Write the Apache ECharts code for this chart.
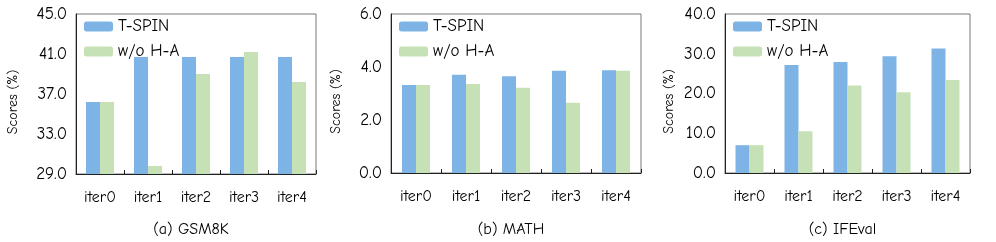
<!DOCTYPE html>
<html><head><meta charset="utf-8">
<script src="https://cdn.jsdelivr.net/npm/echarts@6/dist/echarts.min.js"></script>
<style>html,body{margin:0;padding:0;background:#fff}#c{width:996px;height:242px}</style>
</head><body><div id="c"></div>
<script>
const categories = ['iter0','iter1','iter2','iter3','iter4'];
const seriesNames = ['T-SPIN','w/o H-A'];
const gsm8kTSpin = [36.2, 40.7, 40.7, 40.7, 40.7];
const gsm8kWoHA  = [36.2, 29.8, 39.0, 41.2, 38.2];
const mathTSpin  = [3.32, 3.71, 3.65, 3.86, 3.88];
const mathWoHA   = [3.32, 3.36, 3.22, 2.65, 3.86];
const ifevalTSpin = [7.0, 27.2, 27.9, 29.4, 31.3];
const ifevalWoHA  = [7.0, 10.5, 22.0, 20.3, 23.4];
const gsm8kTicks = [29, 33, 37, 41, 45];
const mathTicks = [0, 2, 4, 6];
const ifevalTicks = [0, 10, 20, 30, 40];
const subtitles = ['(a) GSM8K', '(b) MATH', '(c) IFEval'];

const FONT = "'Comic Sans MS','Comic Neue','Open Sans',sans-serif";
const BLUE = '#7EB3E6', GREEN = '#C7E1B6';
const grids = [
  {left: 76, top: 14, width: 240, height: 160},
  {left: 391, top: 14, width: 250, height: 159},
  {left: 725, top: 14, width: 245, height: 159}
];
const yRanges = [
  {min: 29, max: 45, ticks: gsm8kTicks},
  {min: 0, max: 6, ticks: mathTicks},
  {min: 0, max: 40, ticks: ifevalTicks}
];
const data = [[gsm8kTSpin, gsm8kWoHA],[mathTSpin, mathWoHA],[ifevalTSpin, ifevalWoHA]];
const yNameX = [13, 336, 669];

const chart = echarts.init(document.getElementById('c'));
const opt = {
  animation: false,
  textStyle: {fontFamily: FONT},
  grid: grids.map(g => Object.assign({show: true, borderColor: '#777', borderWidth: 1, backgroundColor: 'transparent'}, g)),
  xAxis: grids.map((g, i) => ({
    type: 'category', gridIndex: i, data: categories,
    axisLine: {lineStyle: {color: '#222', width: 1}},
    axisTick: {show: true, inside: true, length: 4, lineStyle: {color: '#222'}},
    axisLabel: {color: '#000', fontSize: 16, margin: 15, fontFamily: FONT}
  })),
  yAxis: yRanges.map((r, i) => ({
    type: 'value', gridIndex: i, min: r.min, max: r.max,
    splitLine: {show: false},
    axisLine: {show: true, lineStyle: {color: '#222', width: 1}},
    axisTick: {show: false},
    axisLabel: {customValues: r.ticks, color: '#000', fontSize: 17, margin: 9, fontFamily: FONT,
      formatter: v => v.toFixed(1)}
  })),
  legend: grids.map((g, i) => ({
    data: seriesNames, left: g.left + 3, top: 13, orient: 'vertical',
    itemWidth: 29, itemHeight: 10, itemGap: 8,
    textStyle: {fontSize: 17, color: '#000', fontFamily: FONT},
    selectedMode: false
  })),
  graphic: [],
  series: []
};
grids.forEach((g, i) => {
  seriesNames.forEach((n, j) => {
    opt.series.push({
      name: n, type: 'bar', xAxisIndex: i, yAxisIndex: i,
      data: data[i][j], barWidth: 14, barGap: '0%',
      itemStyle: {color: j === 0 ? BLUE : GREEN}
    });
  });
  opt.graphic.push({type: 'text', x: g.left + g.width / 2 - 5, y: 229,
    style: {text: subtitles[i], font: '16px ' + FONT, fill: '#000', textAlign: 'center', textVerticalAlign: 'middle'}});
  opt.graphic.push({type: 'text', x: yNameX[i], y: g.top + g.height / 2 + 8, rotation: Math.PI / 2,
    style: {text: 'Scores (%)', font: '14px ' + FONT, fill: '#000', textAlign: 'center', textVerticalAlign: 'middle'}});
});
chart.setOption(opt);
</script></body></html>
